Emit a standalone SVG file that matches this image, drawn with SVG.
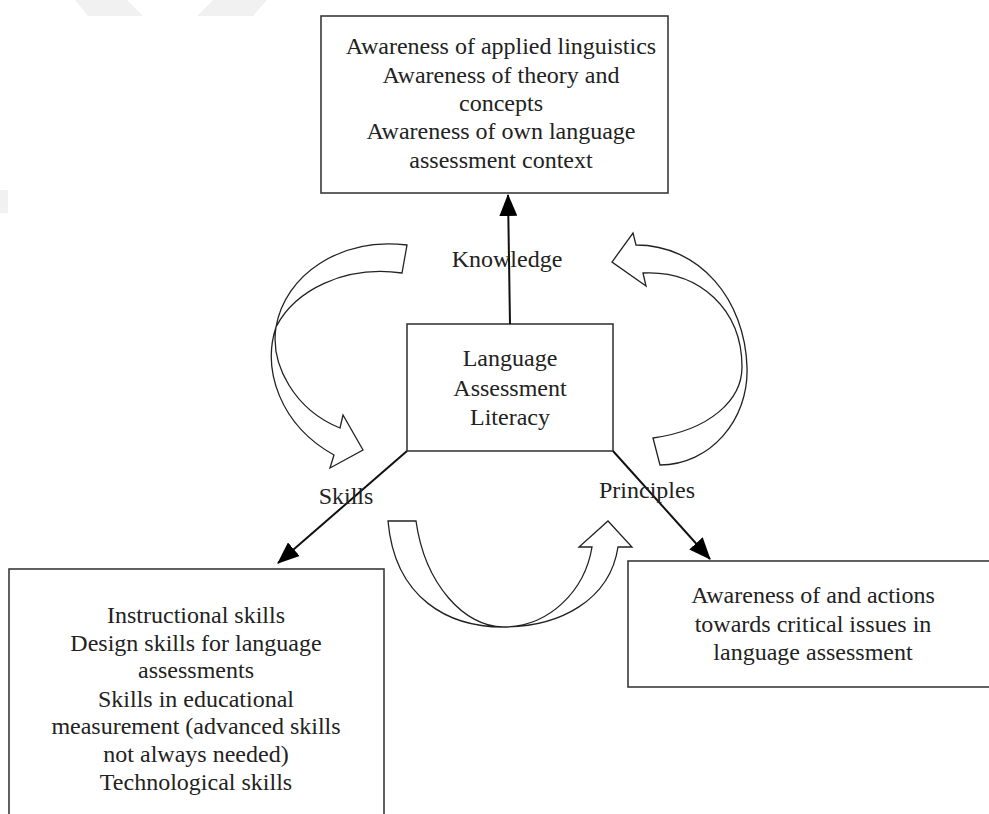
<svg xmlns="http://www.w3.org/2000/svg" width="989" height="814" viewBox="0 0 989 814">
<style>
  .box{fill:#fff;stroke:#3a3a3a;stroke-width:1.6}
  .t{font-family:"Liberation Serif","Times New Roman",serif;font-size:24px;fill:#222;text-anchor:middle}
  .con{stroke:#111;stroke-width:2;fill:none}
  .cyc{fill:#fff;stroke:#222;stroke-width:1.3;stroke-linejoin:miter}
  .wm{fill:#f1f1f1}
</style>
<defs>
  <marker id="ah" viewBox="0 0 22 18" markerWidth="22" markerHeight="18" refX="21" refY="9" orient="auto" markerUnits="userSpaceOnUse">
    <path d="M0,0 L22,9 L0,18 z" fill="#000"/>
  </marker>
</defs>
<rect width="989" height="814" fill="#fff"/>
<g id="watermark">
  <polygon class="wm" points="75,0 127,0 143,16 88,16"/>
  <polygon class="wm" points="213,0 267,0 253,16 197,16"/>
  <polygon class="wm" points="0,190 8,190 8,213 0,213"/>
</g>
<g id="node-knowledge">
  <rect class="box" x="321" y="16" width="347" height="177"/>
  <text class="t" x="501" y="54">Awareness of applied linguistics</text>
  <text class="t" x="501" y="83">Awareness of theory and</text>
  <text class="t" x="501" y="111">concepts</text>
  <text class="t" x="501" y="139">Awareness of own language</text>
  <text class="t" x="501" y="168">assessment context</text>
</g>
<g id="node-lal">
  <rect class="box" x="407" y="324" width="206" height="127"/>
  <text class="t" x="510" y="366">Language</text>
  <text class="t" x="510" y="396">Assessment</text>
  <text class="t" x="510" y="425">Literacy</text>
</g>
<g id="node-skills">
  <rect class="box" x="9" y="569" width="375" height="260"/>
  <text class="t" x="196" y="623">Instructional skills</text>
  <text class="t" x="196" y="651">Design skills for language</text>
  <text class="t" x="196" y="678">assessments</text>
  <text class="t" x="196" y="707">Skills in educational</text>
  <text class="t" x="196" y="734">measurement (advanced skills</text>
  <text class="t" x="196" y="762">not always needed)</text>
  <text class="t" x="196" y="790">Technological skills</text>
</g>
<g id="node-principles">
  <rect class="box" x="628" y="561" width="380" height="126"/>
  <text class="t" x="813" y="603">Awareness of and actions</text>
  <text class="t" x="813" y="632">towards critical issues in</text>
  <text class="t" x="813" y="660">language assessment</text>
</g>
<g id="connectors">
  <line class="con" x1="510" y1="324" x2="508" y2="195" marker-end="url(#ah)"/>
  <line class="con" x1="407" y1="451" x2="278" y2="563" marker-end="url(#ah)"/>
  <line class="con" x1="613" y1="451" x2="710" y2="559" marker-end="url(#ah)"/>
  <text class="t" x="507" y="267">Knowledge</text>
  <text class="t" x="346" y="504">Skills</text>
  <text class="t" x="647" y="498">Principles</text>
  <path class="cyc" d="M407,245 C340,237 285,275 276,327 C270,365 295,410 340,428 L343,415 L363,450 L330,468 L334,455 C280,425 262,370 276,327 C295,290 345,265 402,273 Z"/>
  <path class="cyc" d="M636,245 L633,233 L612,262 L646,286 L643,273 C700,270 742,310 742,367 C742,400 710,430 653,438 L660,465 C710,465 749,420 747,367 C745,300 700,245 636,245 Z"/>
  <path class="cyc" d="M388,521 L416,521 C425,585 465,627 503,627 C550,627 585,590 592,547 L579,547 L608,521 L632,547 L618,547 C610,600 560,627 503,627 C450,627 395,600 388,521 Z"/>
</g>
</svg>
